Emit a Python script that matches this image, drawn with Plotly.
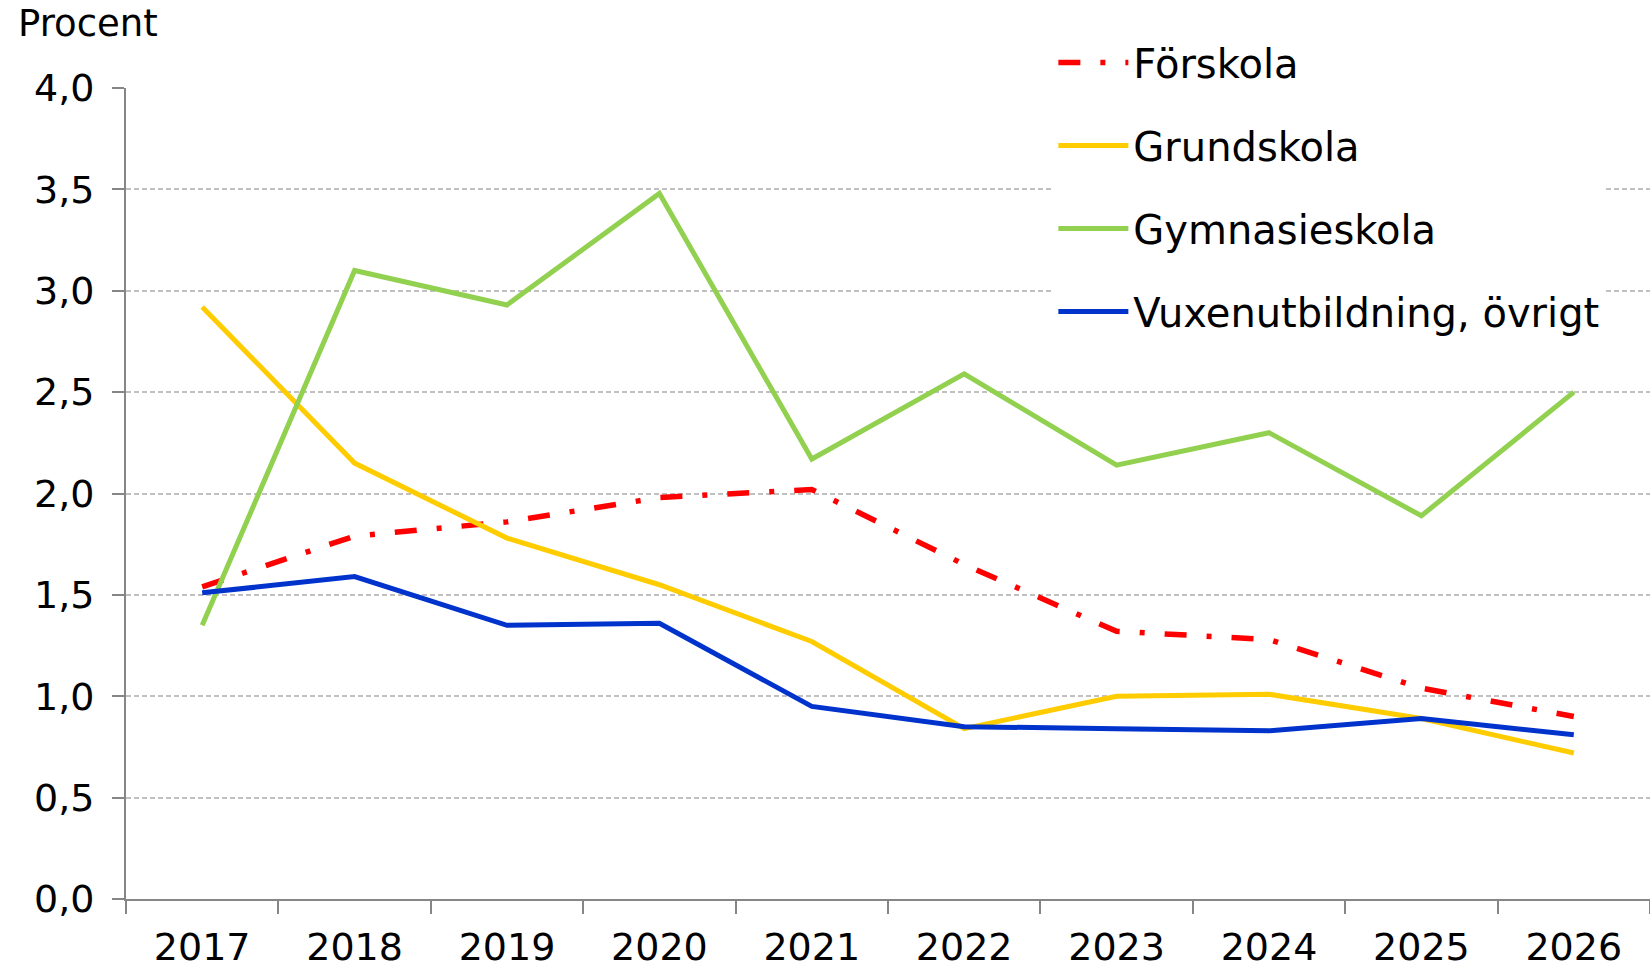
import plotly.graph_objects as go

years = ["2017", "2018", "2019", "2020", "2021", "2022", "2023", "2024", "2025", "2026"]
forskola = [1.54, 1.79, 1.86, 1.98, 2.02, 1.65, 1.32, 1.28, 1.04, 0.90]
grundskola = [2.92, 2.15, 1.78, 1.55, 1.27, 0.84, 1.00, 1.01, 0.89, 0.72]
gymnasieskola = [1.35, 3.10, 2.93, 3.48, 2.17, 2.59, 2.14, 2.30, 1.89, 2.50]
vuxen = [1.51, 1.59, 1.35, 1.36, 0.95, 0.85, 0.84, 0.83, 0.89, 0.81]
y_ticks = [0.0, 0.5, 1.0, 1.5, 2.0, 2.5, 3.0, 3.5, 4.0]

FONT = "DejaVu Sans"
fig = go.Figure()
series = [
    ("Förskola", forskola, "#FF0000", "22px,20px,5px,20px", 5.5),
    ("Grundskola", grundskola, "#FFCC00", "solid", 5),
    ("Gymnasieskola", gymnasieskola, "#92D050", "solid", 5),
    ("Vuxenutbildning, övrigt", vuxen, "#0033CC", "solid", 5),
]
for name, vals, col, dash, w in series:
    fig.add_trace(go.Scatter(
        x=years, y=vals, name=name, mode="lines", legendgroup=name,
        line=dict(color=col, width=w, dash=dash),
    ))

fig.update_layout(
    width=1650, height=970,
    paper_bgcolor="white", plot_bgcolor="white",
    margin=dict(l=126, r=0, t=88, b=71),
    separators=", ",
    font=dict(family=FONT, size=38, color="black"),
    showlegend=True,
    legend=dict(
        x=0.6085, y=1.0715, xanchor="left", yanchor="top",
        bgcolor="white", borderwidth=0,
        font=dict(family=FONT, size=40, color="black"),
        tracegroupgap=28, traceorder="grouped", itemwidth=70,
    ),
    annotations=[dict(
        text="Procent", xref="paper", yref="paper",
        x=-0.0722, y=1.1085, xanchor="left", yanchor="top",
        showarrow=False, font=dict(family=FONT, size=37, color="black"),
    )],
)
fig.update_xaxes(
    type="category", range=[-0.5, 9.5], automargin=False,
    showline=True, linecolor="#868686", linewidth=2,
    ticks="outside", tickson="boundaries", ticklen=13, tickwidth=2, tickcolor="#868686",
    showgrid=False, ticklabelstandoff=13,
    tickfont=dict(family=FONT, size=38, color="black"),
)
fig.update_yaxes(
    range=[0, 4], tickvals=y_ticks, tickformat=".1f", automargin=False,
    showline=True, linecolor="#868686", linewidth=2,
    ticks="outside", ticklen=12, tickwidth=2, tickcolor="#868686",
    showgrid=True, gridcolor="#C0C0C0", griddash="5px,3px", gridwidth=1.5,
    zeroline=False, ticklabelstandoff=10,
    tickfont=dict(family=FONT, size=38, color="black"),
)
fig.write_html(
    "out.html",
    config={"displayModeBar": False},
    post_script="document.body.style.margin='0';document.documentElement.style.overflow='hidden';document.body.style.overflow='hidden';",
)
